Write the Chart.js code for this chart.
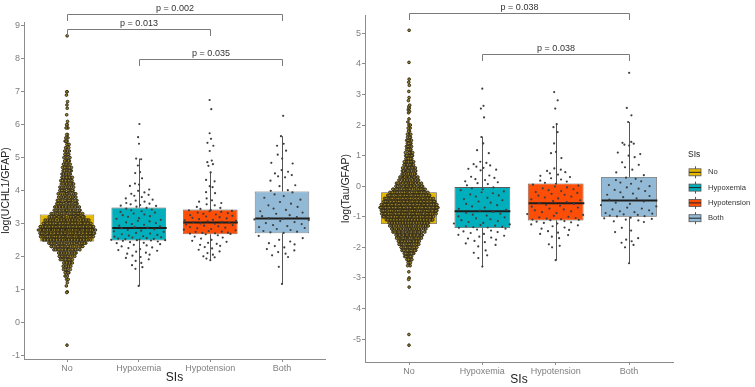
<!DOCTYPE html>
<html><head><meta charset="utf-8">
<script src="https://cdn.jsdelivr.net/npm/chart.js"></script>
<style>
html,body{margin:0;padding:0;background:#fff;width:755px;height:387px;overflow:hidden;}
#c1{position:absolute;left:0;top:0;}
#c2{position:absolute;left:340px;top:0;}
</style></head><body>
<canvas id="c1" width="340" height="387"></canvas>
<canvas id="c2" width="415" height="387"></canvas>
<script>
// ---------------- DATA ----------------
const categories = ['No', 'Hypoxemia', 'Hypotension', 'Both'];
const groupColors = ['#E7B800', '#00AFBB', '#FC4E07', '#92BAD6'];

// Panel 1: log(UCHL1/GFAP)
const uchlTicks = [-1, 0, 1, 2, 3, 4, 5, 6, 7, 8, 9];
const uchlLower  = [1.25, 1.10, 1.88, 1.16];
const uchlQ1     = [2.45, 2.48, 2.67, 2.70];
const uchlMedian = [2.82, 2.86, 3.03, 3.15];
const uchlQ3     = [3.27, 3.48, 3.42, 3.97];
const uchlUpper  = [4.50, 4.97, 4.55, 5.65];
const uchlNoLevels = [1.3,1.4,1.5,1.6,1.7,1.8,1.9,2.0,2.1,2.2,
  2.3,2.4,2.5,2.6,2.7,2.8,2.9,3.0,3.1,3.2,
  3.3,3.4,3.5,3.6,3.7,3.8,3.9,4.0,4.1,4.2,
  4.3,4.4,4.5,4.6,4.7,4.8,4.9,5.0,5.1,5.2,
  5.3,5.4,5.5,5.6,5.7,5.9,6.0,6.1,6.3,6.5,
  6.6,6.7,6.9,7.0];
const uchlNoCounts = [2,2,4,5,6,7,8,10,13,16,
  19,26,34,40,44,42,38,34,30,24,
  20,17,16,14,13,12,12,11,10,9,
  8,8,7,7,6,5,5,4,4,4,
  3,3,3,2,2,2,2,1,1,1,
  1,1,1,2];
const uchlNoSingles = [8.7, 1.2, 1.1, 0.92, 0.9, -0.7];
const uchlHypoxemia = [6.02,5.62,5.42,4.97,4.95,4.76,4.56,4.53,4.37,4.21,4.18,4.14,4.03,3.99,3.94,3.9,3.87,3.84,3.8,3.76,3.72,3.69,3.66,3.62,3.6,3.58,3.56,3.54,3.53,3.51,
  3.47,3.45,3.42,3.4,3.37,3.35,3.33,3.3,3.27,3.25,3.22,3.2,3.16,3.14,3.11,3.08,3.06,3.03,3.01,2.98,2.96,2.93,2.91,2.89,2.87,
  2.85,2.82,2.8,2.78,2.76,2.74,2.71,2.69,2.67,2.65,2.63,2.61,2.6,2.58,2.57,2.55,2.54,2.53,2.52,2.51,2.5,2.49,2.49,2.48,2.47,
  2.45,2.43,2.41,2.4,2.37,2.35,2.33,2.3,2.27,2.25,2.22,2.19,2.17,2.14,2.11,2.08,2.05,2.02,1.98,1.95,1.91,1.86,1.8,1.73,1.67,1.62,1.1];
const uchlHypotension = [6.75,6.47,5.74,5.57,5.45,5.36,5.2,4.91,4.86,4.8,4.75,4.55,4.32,4.28,4.13,4.1,3.95,3.92,3.76,3.7,3.66,3.62,3.58,3.55,3.5,3.47,3.44,
  3.41,3.4,3.38,3.37,3.35,3.33,3.31,3.29,3.27,3.25,3.23,3.21,3.19,3.17,3.15,3.13,3.11,3.09,3.08,3.06,3.05,3.04,
  3.02,3.0,2.99,2.97,2.95,2.93,2.91,2.89,2.87,2.85,2.83,2.81,2.79,2.77,2.75,2.74,2.72,2.71,2.7,2.69,2.68,2.67,
  2.64,2.6,2.57,2.54,2.5,2.47,2.44,2.41,2.38,2.35,2.32,2.28,2.24,2.2,2.15,2.1,2.05,2.0,1.97,1.93,1.88];
const uchlBoth = [6.27,5.65,5.42,5.36,5.21,5.09,4.97,4.84,4.82,4.62,4.57,4.52,4.47,4.43,4.4,4.3,4.16,4.13,4.01,3.99,
  3.94,3.88,3.83,3.78,3.72,3.65,3.6,3.55,3.5,3.45,3.41,3.37,3.33,3.29,3.25,3.22,3.19,3.16,3.14,3.12,3.1,3.07,3.04,3.01,2.98,2.95,2.92,2.89,2.86,2.83,2.8,2.77,2.75,2.73,2.71,
  2.62,2.55,2.5,2.45,2.4,2.36,2.31,2.27,2.22,2.18,2.13,2.08,2.03,1.98,1.68,1.16];
const uchlPairs = [[1, 4], [1, 3], [2, 4]];
const uchlPLabels = ['p = 0.002', 'p = 0.013', 'p = 0.035'];

// Panel 2: log(Tau/GFAP)
const tauTicks = [-5, -4, -3, -2, -1, 0, 1, 2, 3, 4, 5];
const tauLower  = [-2.60, -2.63, -2.42, -2.52];
const tauQ1     = [-1.24, -1.37, -1.12, -1.00];
const tauMedian = [-0.72, -0.82, -0.56, -0.47];
const tauQ3     = [-0.20, -0.03, 0.09, 0.30];
const tauUpper  = [1.35, 1.62, 2.03, 2.10];
const tauNoLevels = [-2.6,-2.5,-2.4,-2.3,-2.2,-2.1,-2.0,-1.9,-1.8,-1.7,
  -1.6,-1.5,-1.4,-1.3,-1.2,-1.1,-1.0,-0.9,-0.8,-0.7,
  -0.6,-0.5,-0.4,-0.3,-0.2,-0.1,0.0,0.1,0.2,0.3,
  0.4,0.5,0.6,0.7,0.8,0.9,1.0,1.1,1.2,1.3,
  1.4,1.5,1.6,1.7,1.8,1.9,2.0];
const tauNoCounts = [2,3,4,6,8,10,12,14,16,18,
  20,22,24,27,30,33,36,40,43,44,
  42,38,34,30,27,23,20,17,14,12,
  11,10,9,8,7,6,6,5,5,4,
  4,4,3,3,2,2,3];
const tauNoSingles = [2.1,2.2,2.4,2.45,2.5,2.55,2.6,2.65,2.8,2.9,3.1,3.3,3.4,3.5,4.05,5.1,-2.8,-3.0,-3.05,-3.3,-4.85,-5.2];
const tauHypoxemia = [3.19,2.63,2.54,2.25,1.61,1.4,1.18,1.08,0.8,0.76,0.72,0.68,0.64,0.6,0.57,0.54,0.52,0.35,0.31,0.27,0.23,0.2,0.16,0.13,0.1,0.07,0.03,
  -0.04,-0.07,-0.1,-0.13,-0.17,-0.2,-0.23,-0.27,-0.3,-0.34,-0.38,-0.42,-0.46,-0.5,-0.54,-0.58,-0.62,-0.66,-0.7,-0.74,-0.77,-0.8,
  -0.84,-0.87,-0.9,-0.93,-0.96,-0.99,-1.02,-1.05,-1.08,-1.11,-1.14,-1.17,-1.2,-1.22,-1.25,-1.27,-1.29,-1.31,-1.33,-1.34,-1.35,-1.36,
  -1.39,-1.42,-1.45,-1.48,-1.5,-1.53,-1.56,-1.59,-1.62,-1.65,-1.68,-1.71,-1.75,-1.79,-1.83,-1.87,-1.92,-1.97,-2.1,-2.18,-2.26,-2.35,-2.63];
const tauHypotension = [3.08,2.81,2.54,2.03,1.93,1.77,1.4,1.12,1.08,0.92,0.58,0.54,0.5,0.46,0.42,0.38,0.34,0.3,0.26,0.22,0.18,0.15,0.11,
  0.08,0.05,0.02,-0.01,-0.04,-0.07,-0.1,-0.13,-0.16,-0.19,-0.22,-0.25,-0.28,-0.31,-0.34,-0.37,-0.4,-0.43,-0.46,-0.49,-0.52,-0.55,
  -0.58,-0.61,-0.64,-0.67,-0.7,-0.73,-0.76,-0.79,-0.82,-0.85,-0.88,-0.91,-0.94,-0.97,-1.0,-1.02,-1.04,-1.06,-1.08,-1.09,-1.1,-1.11,
  -1.14,-1.16,-1.18,-1.2,-1.22,-1.25,-1.28,-1.31,-1.35,-1.39,-1.43,-1.47,-1.52,-1.56,-1.6,-1.65,-1.7,-1.9,-1.95,-2.0,-2.42];
const tauBoth = [3.71,2.56,2.32,2.1,1.45,1.42,1.39,1.36,1.33,1.1,1.05,1.0,0.95,0.78,0.7,0.62,0.54,0.45,0.36,
  0.28,0.24,0.2,0.16,0.12,0.08,0.04,0.0,-0.04,-0.08,-0.12,-0.16,-0.2,-0.24,-0.28,-0.32,-0.36,-0.4,-0.44,
  -0.5,-0.54,-0.58,-0.62,-0.66,-0.7,-0.73,-0.76,-0.79,-0.82,-0.85,-0.88,-0.9,-0.92,-0.94,-0.96,-0.98,-0.99,
  -1.03,-1.05,-1.07,-1.09,-1.12,-1.15,-1.17,-1.36,-1.45,-1.5,-1.7,-1.75,-1.8,-1.85,-1.92,-2.0,-2.52];
const tauPairs = [[1, 4], [2, 4]];
const tauPLabels = ['p = 0.038', 'p = 0.038'];

// ---------------- LAYOUT / STYLE ----------------
const FONT = "'Liberation Sans', Arial, sans-serif";
Chart.defaults.font.family = FONT;
const AXIS_GRAY = '#8c8c8c';
const uchlLayout = { yMin: -1.12, yMax: 9.12, bracketY: [9.36, 8.91, 8.0], pad: {top: 22, right: 15, left: 0, bottom: 0}, yAxisWidth: 24, xAxisHeight: 28, yTitle: 'log(UCHL1/GFAP)', xTitlePadBottom: 2, legend: false };
const tauLayout  = { yMin: -5.75, yMax: 5.6, bracketY: [5.65, 4.31], pad: {top: 15, right: 82, left: 0, bottom: 0}, yAxisWidth: 25, xAxisHeight: 25, yTitle: 'log(Tau/GFAP)', xTitlePadBottom: 0, legend: true };

// ---------------- HELPERS ----------------
function expandLevels(levels, counts, singles) {
  const out = [];
  levels.forEach((v, i) => { for (let k = 0; k < counts[i]; k++) out.push(v); });
  return out.concat(singles);
}
function vdc(n) { let q = 0, bk = 0.5; while (n > 0) { q += (n % 2) * bk; n = Math.floor(n / 2); bk /= 2; } return q; }
function densityFn(values) {
  const n = values.length;
  const s = [...values].sort((a, b) => a - b);
  const mean = values.reduce((a, b) => a + b, 0) / n;
  const sd = Math.sqrt(values.reduce((a, b) => a + (b - mean) * (b - mean), 0) / (n - 1));
  const q = p => { const h = (n - 1) * p, lo = Math.floor(h); return s[lo] + (h - lo) * ((s[lo + 1] ?? s[lo]) - s[lo]); };
  const iqr = q(0.75) - q(0.25);
  const bw = 0.9 * Math.min(sd, iqr / 1.34) * Math.pow(n, -0.2);
  const cache = new Map();
  return v => {
    if (cache.has(v)) return cache.get(v);
    let t = 0; for (const x of values) { const z = (v - x) / bw; t += Math.exp(-0.5 * z * z); }
    cache.set(v, t); return t;
  };
}
// quasirandom (van der Corput) beeswarm offsets scaled by density
function quasiSwarm(values, center, halfWidth) {
  const dens = densityFn(values);
  const d = values.map(dens);
  const maxD = Math.max(...d);
  const order = values.map((v, i) => i).sort((a, b) => values[a] - values[b] || a - b);
  const pts = new Array(values.length);
  order.forEach((idx, r) => {
    const off = (vdc(r + 1) * 2 - 1) * halfWidth * d[idx] / maxD;
    pts[idx] = { x: center + off, y: values[idx] };
  });
  return pts;
}

function boxPlugin(stats) {
  return {
    id: 'boxDetails',
    afterDatasetDraw(chart, args) {
      if (args.index !== 0) return;
      const { ctx, scales: { x, y } } = chart;
      ctx.save();
      args.meta.data.forEach((bar, i) => {
        const cx = Math.round(x.getPixelForValue(i + 1)) + 0.5;
        const half = bar.width / 2;
        ctx.strokeStyle = '#555'; ctx.lineWidth = 1;
        ctx.beginPath();
        ctx.moveTo(cx, y.getPixelForValue(stats.q3[i])); ctx.lineTo(cx, y.getPixelForValue(stats.upper[i]));
        ctx.moveTo(cx, y.getPixelForValue(stats.q1[i])); ctx.lineTo(cx, y.getPixelForValue(stats.lower[i]));
        ctx.stroke();
        const my = y.getPixelForValue(stats.median[i]);
        ctx.strokeStyle = '#1e1e1e'; ctx.lineWidth = 2;
        ctx.beginPath(); ctx.moveTo(cx - half, my); ctx.lineTo(cx + half, my); ctx.stroke();
      });
      ctx.restore();
    }
  };
}
function bracketPlugin(pairs, labels, levels) {
  return {
    id: 'brackets',
    afterDraw(chart) {
      const { ctx, scales: { x, y } } = chart;
      ctx.save();
      ctx.strokeStyle = '#7a7a7a'; ctx.lineWidth = 1;
      ctx.fillStyle = '#333'; ctx.font = '9px ' + FONT;
      ctx.textAlign = 'center'; ctx.textBaseline = 'bottom';
      pairs.forEach((p, i) => {
        const x1 = Math.round(x.getPixelForValue(p[0])) + 0.5;
        const x2 = Math.round(x.getPixelForValue(p[1])) + 0.5;
        const yy = Math.round(y.getPixelForValue(levels[i])) + 0.5;
        const tip = 6.5;
        ctx.beginPath();
        ctx.moveTo(x1, yy + tip); ctx.lineTo(x1, yy); ctx.lineTo(x2, yy); ctx.lineTo(x2, yy + tip);
        ctx.stroke();
        ctx.fillText(labels[i], (x1 + x2) / 2, yy - 1.5);
      });
      ctx.restore();
    }
  };
}
function legendPlugin() {
  return {
    id: 'sisLegend',
    afterDraw(chart) {
      const ctx = chart.ctx;
      const x0 = chart.chartArea.right + 15;
      const cyMid = (chart.chartArea.top + chart.chartArea.bottom) / 2;
      ctx.save();
      ctx.textAlign = 'left'; ctx.textBaseline = 'middle';
      ctx.fillStyle = '#222'; ctx.font = '8.5px ' + FONT;
      ctx.fillText('SIs', x0, cyMid - 33.5);
      ctx.font = '7.6px ' + FONT;
      categories.forEach((c, i) => {
        const cy = cyMid - 16.2 + i * 15.3;
        const bx = x0 + 1, bw = 12, bh = 7;
        ctx.strokeStyle = '#555'; ctx.lineWidth = 1;
        ctx.beginPath(); ctx.moveTo(bx + bw / 2 + 0.5, cy - 6); ctx.lineTo(bx + bw / 2 + 0.5, cy + 6); ctx.stroke();
        ctx.fillStyle = groupColors[i];
        ctx.fillRect(bx, cy - bh / 2, bw, bh);
        ctx.lineWidth = 0.8; ctx.strokeRect(bx, cy - bh / 2, bw, bh);
        ctx.strokeStyle = '#222'; ctx.lineWidth = 1;
        ctx.beginPath(); ctx.moveTo(bx, cy); ctx.lineTo(bx + bw, cy); ctx.stroke();
        ctx.fillStyle = '#333';
        ctx.fillText(c, x0 + 20, cy);
      });
      ctx.restore();
    }
  };
}

function makePanel(canvasId, L, ticks, stats, groups, pairs, labels) {
  const datasets = [{
    type: 'bar',
    data: categories.map((c, i) => ({ x: i + 1, y: [stats.q1[i], stats.q3[i]] })),
    backgroundColor: groupColors,
    borderColor: '#5a5a5a', borderWidth: 0.8, borderSkipped: false,
    barPercentage: 0.76, categoryPercentage: 1, order: 5
  }];
  groups.forEach((vals, i) => {
    datasets.push({
      type: 'scatter',
      data: quasiSwarm(vals, i + 1, 0.4),
      pointRadius: i === 0 ? 1.35 : 1.1,
      backgroundColor: i === 0 ? '#9c8326' : '#3f3f3f',
      borderColor: i === 0 ? '#2b2616' : '#3f3f3f',
      borderWidth: i === 0 ? 0.9 : 0,
      order: 1
    });
  });
  const gridCfg = { display: true, offset: false, drawOnChartArea: false, drawTicks: true, tickLength: 3, color: AXIS_GRAY, lineWidth: 1 };
  const plugins = [boxPlugin(stats), bracketPlugin(pairs, labels, L.bracketY)];
  if (L.legend) plugins.push(legendPlugin());
  return new Chart(document.getElementById(canvasId), {
    type: 'bar',
    data: { datasets },
    plugins,
    options: {
      responsive: false, animation: false, events: [], devicePixelRatio: 1,
      layout: { padding: L.pad },
      plugins: { legend: { display: false }, tooltip: { enabled: false } },
      scales: {
        x: {
          type: 'linear', min: 0.4, max: 4.6, offset: false,
          afterBuildTicks: s => { s.ticks = categories.map((c, i) => ({ value: i + 1 })); },
          afterFit: s => { s.height = L.xAxisHeight; },
          grid: gridCfg,
          border: { display: true, color: AXIS_GRAY, width: 1 },
          ticks: { callback: v => categories[Math.round(v) - 1] ?? '', color: '#7f7f7f', font: { size: 9 }, padding: 1, maxRotation: 0, autoSkip: false },
          title: { display: true, text: 'SIs', color: '#222', font: { size: 12 }, padding: { top: 0, bottom: L.xTitlePadBottom } }
        },
        y: {
          type: 'linear', min: L.yMin, max: L.yMax,
          afterBuildTicks: s => { s.ticks = ticks.map(v => ({ value: v })); },
          afterFit: s => { s.width = L.yAxisWidth; },
          grid: gridCfg,
          border: { display: true, color: AXIS_GRAY, width: 1 },
          ticks: { color: '#7f7f7f', font: { size: 9 }, padding: 1 },
          title: { display: true, text: L.yTitle, color: '#222', font: { size: 10.5 }, padding: 0 }
        }
      }
    }
  });
}

makePanel('c1', uchlLayout, uchlTicks,
  { lower: uchlLower, q1: uchlQ1, median: uchlMedian, q3: uchlQ3, upper: uchlUpper },
  [expandLevels(uchlNoLevels, uchlNoCounts, uchlNoSingles), uchlHypoxemia, uchlHypotension, uchlBoth],
  uchlPairs, uchlPLabels);
makePanel('c2', tauLayout, tauTicks,
  { lower: tauLower, q1: tauQ1, median: tauMedian, q3: tauQ3, upper: tauUpper },
  [expandLevels(tauNoLevels, tauNoCounts, tauNoSingles), tauHypoxemia, tauHypotension, tauBoth],
  tauPairs, tauPLabels);
</script></body></html>
